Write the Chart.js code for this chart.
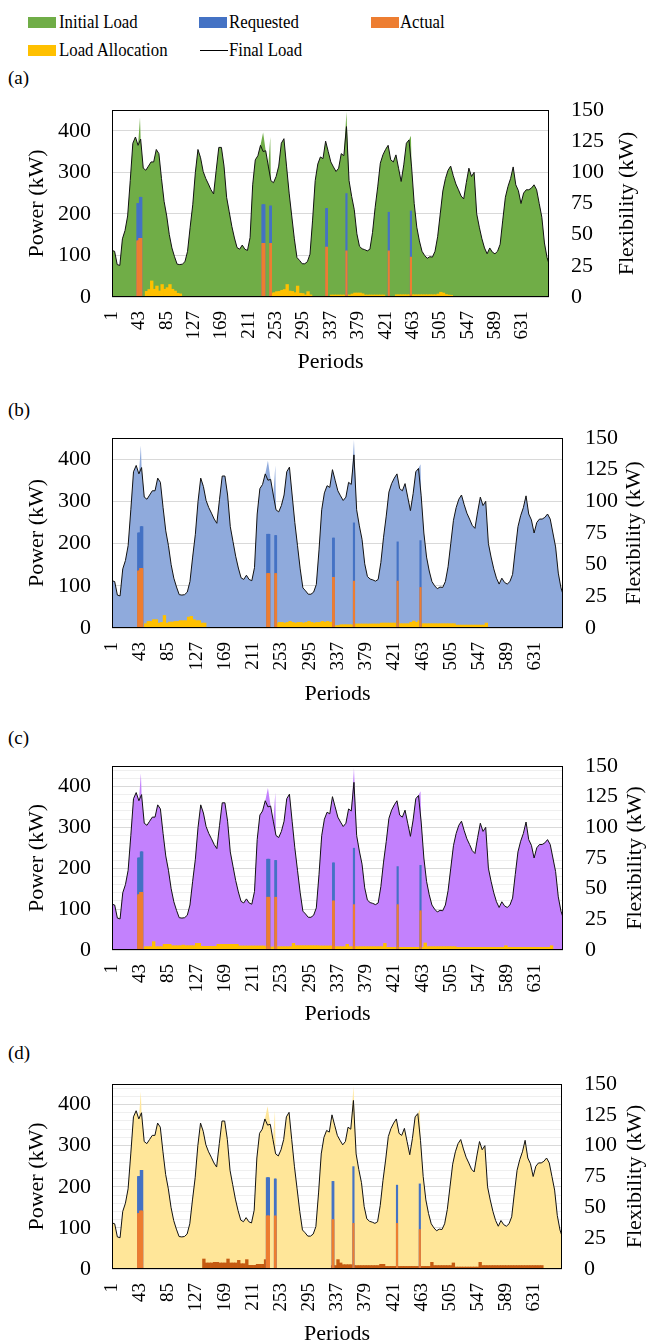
<!DOCTYPE html>
<html lang="en">
<head>
<meta charset="UTF-8" />
<title>Initial and final load with flexibility requests</title>
<script src="https://cdn.jsdelivr.net/npm/chart.js"></script>
<style>
  body {
    margin: 0;
    width: 648px;
    height: 1344px;
    position: relative;
    overflow: hidden;
    background: #fff;
    color: #000;
    font-family: 'Liberation Serif', 'Times New Roman', serif;
  }
  .legend-text {
    position: absolute; font-size: 19.5px; line-height: 22px; white-space: nowrap;
    transform: scaleX(0.86); transform-origin: left center;
  }
  .swatch { position: absolute; width: 28px; height: 11px; }
  .panel-label { position: absolute; left: 8px; font-size: 19px; line-height: 22px; }
  canvas { position: absolute; left: 0; }
</style>
</head>
<body>

<div class="swatch" style="left:28px;top:17px;background:#70ad47"></div>
<div class="legend-text" style="left:59px;top:11px">Initial Load</div>
<div class="swatch" style="left:199px;top:17px;background:#4472c4"></div>
<div class="legend-text" style="left:229px;top:11px">Requested</div>
<div class="swatch" style="left:371px;top:17px;background:#ed7d31"></div>
<div class="legend-text" style="left:400px;top:11px">Actual</div>
<div class="swatch" style="left:28px;top:45px;background:#ffc000"></div>
<div class="legend-text" style="left:59px;top:39px">Load Allocation</div>
<div class="swatch" style="left:200px;top:50px;height:1px;background:#000"></div>
<div class="legend-text" style="left:229px;top:39px">Final Load</div>

<div class="panel-label" style="top:67px">(a)</div>
<div class="panel-label" style="top:399px">(b)</div>
<div class="panel-label" style="top:727px">(c)</div>
<div class="panel-label" style="top:1042px">(d)</div>

<script>
// x-axis labels (every 42nd period of the 672-period week)
const periodTicks = [1, 43, 85, 127, 169, 211, 253, 295, 337, 379, 421, 463, 505, 547, 589, 631];

// final load (kW), read every 4th period: 1, 5, 9, ... 669, then 672
const loadStep = 4;
const finalLoad = [
  112, 110, 78, 76, 140, 160, 195, 280, 370, 385, 365, 380,
  310, 305, 315, 325, 325, 355, 345, 285, 230, 195, 150, 118,
  97, 79, 78, 79, 85, 110, 168, 222, 300, 355, 335, 302,
  285, 272, 258, 248, 305, 360, 360, 315, 240, 205, 170, 142,
  119, 115, 125, 115, 112, 143, 270, 330, 340, 365, 350, 352,
  315, 280, 275, 290, 315, 370, 381, 315, 250, 195, 140, 95,
  88, 80, 80, 85, 103, 185, 280, 320, 337, 333, 375, 350,
  325, 313, 302, 310, 345, 340, 410, 280, 242, 210, 152, 122,
  116, 114, 111, 115, 155, 215, 265, 322, 342, 355, 365, 330,
  325, 342, 310, 278, 318, 370, 378, 313, 225, 168, 135, 110,
  100, 93, 97, 96, 110, 145, 200, 255, 285, 305, 315, 292,
  272, 258, 243, 236, 275, 310, 290, 300, 200, 168, 140, 118,
  104, 118, 108, 104, 110, 127, 185, 240, 266, 285, 313, 270,
  256, 225, 250, 258, 258, 262, 270, 258, 225, 192, 130, 95,
  80
];

// short peaks where the initial load stands above the final load (period, kW)
const initialPeaks = [[44, 432], [233, 396], [244, 385], [361, 445], [460, 388]];

// flexibility events (right axis, kW)
const flexPeriods = [40, 41, 42, 43, 44, 45, 46, 232, 233, 234, 235, 244, 245, 330, 331, 361, 426, 460];
const requested   = [75, 75, 75, 75, 80, 80, 80, 74, 74, 74, 74, 73, 73, 71, 71, 83, 68, 69];
const actual      = [45, 45, 45, 47, 47, 47, 47, 43, 43, 43, 43, 43, 43, 40, 40, 37, 37, 32];

// load allocation (right axis, kW): [first period, values every 4th period]
const allocStep = 4;
const allocA = [
  [54, [4.5, 6, 12.9, 6.2, 8.8, 4.8, 10, 6.2, 7.5, 10, 6.2, 4.8, 3, 2.5]],
  [246, [2.8, 3.5, 4.3, 4.5, 5.4, 6, 10, 4.8, 4.5, 3.5, 8.8, 3, 2.8, 1.7, 4.3, 1.7]],
  [338, [1.6, 1.6, 1.6, 1.6, 1.6, 1.6, 1.6, 1.6, 2.4, 3.2, 3.2, 3.2, 2.6, 1.6, 1.6, 1.6, 1.6, 1.6, 1.6, 1.6, 1.6]],
  [438, [1.8, 1.8, 1.8, 1.8, 1.8, 1.8, 1.8, 1.8, 1.8, 1.8, 1.8, 1.8, 1.8, 1.8, 1.8, 1.8, 2.4, 3.8, 3.2, 2, 1.6, 1.4]]
];
const allocB = [
  [51, [3.4, 5.2, 5.2, 6.6, 6.6, 3.9, 4.4, 9.9, 3.9, 4.7, 4.7, 5.2, 5.2, 5.8, 5.8, 5.8, 8.6, 9.2, 6.6, 5.8, 5.8, 3.9, 3.9]],
  [246, [3.4, 4.4, 4.4, 3.9, 4.4, 5.2, 4.4, 3.9, 4.4, 4.4, 3.9, 4.4, 5.2, 4.4, 3.9, 4.4, 4.4,
         5.2, 4.7, 5.2, 4.5, 5.0,
         1.8, 2.0, 2.6, 2.6, 2.6, 2.6, 2.6,
         3.2, 3.2, 3.2, 3.2, 3.2, 3.2, 3.2, 3.2, 3.2, 3.2,
         3.9, 3.9, 3.9, 3.9, 3.9, 3.9, 6.0,
         3.4, 3.4, 3.4, 3.4,
         4.5, 5.5, 4.5, 5.8,
         3.4, 3.4, 3.4, 3.4, 3.4, 3.4, 3.4, 3.4, 3.4, 3.4, 3.4, 3.4, 3.4,
         2.3, 2.3, 2.3, 2.3, 2.3, 2.3, 2.3, 2.3, 2.3, 2.3, 2.3,
         3.9]]
];
const allocC = [
  [51, [2.7, 2.7, 2.7, 6.8, 2.7, 2.7, 2.7, 4.6, 4.6, 4.6,
        3.5, 3.5, 3.5, 3.5, 4.0, 3.5, 3.5, 3.5, 3.5, 5.4, 5.4,
        3, 3, 3, 3, 3, 3,
        4.6, 4.6, 4.6, 4.6, 4.6, 4.6, 4.6, 4.6,
        3.3, 3.3, 3.3, 3.3, 3.3, 3.3, 3.3, 3.3, 3.3, 3.3,
        2.5, 2.5, 2.5, 2.5,
        2.7, 2.7, 2.7, 2.7, 2.7, 2.7, 5.4,
        3.5, 3.5, 3.5, 3.5, 3.5, 3.5, 3.5, 3.5, 3.5,
        3.3, 3.3, 3.3, 3.3, 3.3,
        2.7, 2.7, 2.7, 2.7, 2.7, 4.6, 2.7,
        2.7, 2.7, 2.7, 2.7, 2.7, 2.7, 2.7, 2.7, 2.7, 2.7, 2.7, 2.7, 5.4,
        2.2, 2.2, 2.2, 2.2, 2.2, 2.2, 2.2, 2.2, 2.2, 2.2, 2.2, 2.2, 2.2, 2.2, 5.7,
        2.7, 2.7, 2.7, 2.7, 2.7, 2.7, 2.7, 2.7, 2.7, 2.7, 2.7,
        2.2, 2.2, 2.2, 2.2, 2.2, 2.2, 2.2, 2.2, 2.2, 2.2, 2.2, 2.2, 2.2, 2.2, 2.2, 2.2, 2.2, 2.2, 3.5,
        2.2, 2.2, 2.2, 2.2, 2.2, 2.2, 2.2, 2.2, 2.2, 2.2, 2.2, 2.2, 2.2, 2.2, 2.2, 2.2, 3.5]]
];
const allocD = [
  [138, [8.1, 4.9, 4.9, 4.9, 5.4, 5.4, 4.9, 4.9, 4.9, 8.1, 4.9, 4.9, 4.9, 7, 4.3, 4.3, 7.6, 3, 3, 3, 3.8, 3.8, 3.8, 7.6]],
  [330, [2.8, 2.8, 7.6, 4.9, 3.5, 3.5, 3.5, 3.5,
         2.8, 2.8, 2.8, 2.8, 2.8, 2.8, 2.8, 2.8, 2.8, 2.8, 3.8, 3.8,
         2.1, 2.1, 2.1, 2.1, 2.1, 2.1, 2.1, 2.1, 2.1, 2.1, 2.1, 2.1, 2.1, 2.1, 2.1, 2.1, 2.1, 5.4,
         2.8, 2.8, 2.8, 2.8, 2.8, 2.8, 2.8, 4.9,
         1.6, 1.6, 1.6, 1.6, 1.6, 1.6, 1.6, 1.6, 1.6, 5.4,
         2.8, 2.8, 2.8, 2.8, 2.8, 2.8, 2.8, 2.8, 2.8, 2.8, 2.8, 2.8, 2.8, 2.8, 2.8, 2.8, 2.8, 2.8, 2.8, 2.8, 2.8, 2.8, 2.8]]
];

Chart.defaults.font.family = "'Liberation Serif', 'Times New Roman', serif";
Chart.defaults.color = '#000';

const PAD = 16;
const panels = [
  { fill: '#70ad47', alloc: allocA, allocColor: '#ffc000', gridStep: 100, top: 110, bottom: 297, right: 549, periodsY: 362, flexTitleX: 627 },
  { fill: '#8faadc', alloc: allocB, allocColor: '#ffc000', gridStep: 100, top: 438, bottom: 628, right: 563, periodsY: 694, flexTitleX: 634 },
  { fill: '#c381fd', alloc: allocC, allocColor: '#ffc000', gridStep: 20, top: 766, bottom: 950, right: 563, periodsY: 1014, flexTitleX: 635 },
  { fill: '#ffe699', alloc: allocD, allocColor: '#c55a11', gridStep: 20, top: 1084, bottom: 1269, right: 562, periodsY: 1334, flexTitleX: 635 }
];

const loadPeriods = finalLoad.map((_, i) => Math.min(1 + loadStep * i, 672));
const finalPts = loadPeriods.map((p, i) => ({ x: p, y: finalLoad[i] }));

const initMap = new Map(loadPeriods.map((p, i) => [p, finalLoad[i]]));
initialPeaks.forEach(([p, v]) => initMap.set(p, v));
const initialPts = [...initMap.entries()].sort((a, b) => a[0] - b[0]).map(([x, y]) => ({ x, y }));

const requestedPts = flexPeriods.map((p, i) => ({ x: p, y: requested[i] }));
const actualPts = flexPeriods.map((p, i) => ({ x: p, y: actual[i] }));

function allocPoints(segments) {
  const pts = [];
  segments.forEach(([start, values]) => {
    values.forEach((v, i) => pts.push({ x: start + allocStep * i, y: v }));
  });
  return pts;
}

// plot frame plus a right-hand title that reads upwards like the left one
const framePlugin = {
  id: 'frame',
  afterDraw(chart, args, opts) {
    const { ctx, chartArea: a } = chart;
    ctx.save();
    ctx.strokeStyle = '#000';
    ctx.lineWidth = 1;
    ctx.strokeRect(a.left + 0.5, a.top + 0.5, a.right - a.left - 1, a.bottom - a.top - 1);
    ctx.translate(opts.titleX, (a.top + a.bottom) / 2);
    ctx.rotate(-Math.PI / 2);
    ctx.font = "22px 'Liberation Serif', 'Times New Roman', serif";
    ctx.fillStyle = '#000';
    ctx.textAlign = 'center';
    ctx.textBaseline = 'middle';
    ctx.fillText(opts.title, 0, 0);
    ctx.restore();
  }
};

// keep the tick labels from pushing the plot area down
function fixVertical(width) {
  return s => {
    s.width = width;
    s.paddingTop = 0;
    s.paddingBottom = 0;
  };
}

panels.forEach(p => {
  const top = p.top - PAD;
  const height = p.periodsY + 14 - top;
  const canvas = document.createElement('canvas');
  canvas.width = 648;
  canvas.height = height;
  canvas.style.top = top + 'px';
  document.body.appendChild(canvas);
  const xAxisH = height - PAD - (p.bottom - p.top);

  new Chart(canvas, {
    type: 'line',
    data: {
      datasets: [
        { type: 'line', label: 'Final Load', data: finalPts, yAxisID: 'y', order: 0,
          borderColor: '#111', borderWidth: 1, pointRadius: 0, fill: false, tension: 0 },
        { type: 'bar', label: 'Actual', data: actualPts, yAxisID: 'y1', order: 1,
          backgroundColor: '#ed7d31', barThickness: 1.5, grouped: false },
        { type: 'bar', label: 'Requested', data: requestedPts, yAxisID: 'y1', order: 2,
          backgroundColor: '#4472c4', barThickness: 1.5, grouped: false },
        { type: 'bar', label: 'Load Allocation', data: allocPoints(p.alloc), yAxisID: 'y1', order: 3,
          backgroundColor: p.allocColor, barThickness: 2.7, grouped: false },
        { type: 'line', label: 'Initial Load', data: initialPts, yAxisID: 'y', order: 4,
          backgroundColor: p.fill, borderWidth: 0, pointRadius: 0, fill: 'origin', tension: 0 }
      ]
    },
    options: {
      responsive: false,
      animation: false,
      events: [],
      layout: { padding: { top: PAD, left: 0, right: 0, bottom: 0 } },
      plugins: {
        legend: { display: false },
        tooltip: { enabled: false },
        frame: { titleX: p.flexTitleX, title: 'Flexibility (kW)' }
      },
      scales: {
        x: {
          type: 'linear', min: 1, max: 672, offset: false,
          afterBuildTicks: s => { s.ticks = periodTicks.map(v => ({ value: v })); },
          afterFit: s => { s.height = xAxisH; },
          grid: { display: false, drawTicks: false },
          border: { display: false },
          ticks: { autoSkip: false, minRotation: 90, maxRotation: 90, padding: 14, font: { size: 19 } },
          title: { display: true, text: 'Periods', font: { size: 22 }, padding: { top: 0, bottom: 1 } }
        },
        y: {
          position: 'left', min: 0, max: 450, bounds: 'data',
          afterBuildTicks: s => {
            const ticks = [];
            for (let v = 0; v < 450; v += p.gridStep) ticks.push({ value: v });
            s.ticks = ticks;
          },
          afterFit: fixVertical(112),
          grid: {
            drawTicks: false,
            color: c => (c.tick && c.tick.value % 100 === 0) ? '#d9d9d9' : '#efefef'
          },
          border: { display: false },
          ticks: {
            autoSkip: false, padding: 21, font: { size: 22 },
            callback: v => (v % 100 === 0 ? v : '')
          },
          title: { display: true, text: 'Power (kW)', font: { size: 22 }, padding: { top: 24, bottom: 0 } }
        },
        y1: {
          position: 'right', min: 0, max: 150,
          afterFit: fixVertical(648 - p.right),
          grid: { display: false, drawTicks: false },
          border: { display: false },
          ticks: { stepSize: 25, autoSkip: false, padding: 22, font: { size: 22 } }
        }
      }
    },
    plugins: [framePlugin]
  });
});
</script>
</body>
</html>
